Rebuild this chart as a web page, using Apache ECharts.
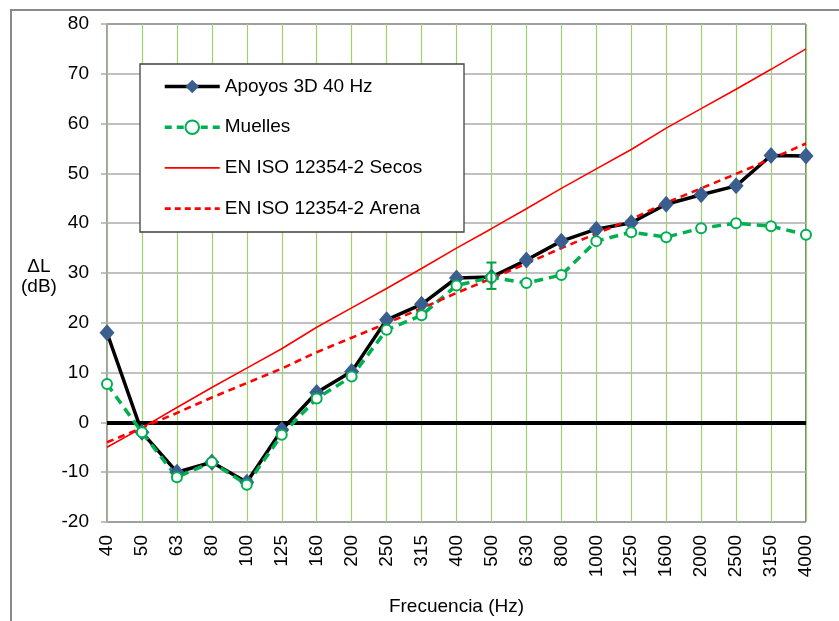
<!DOCTYPE html>
<html>
<head>
<meta charset="utf-8">
<script src="https://cdn.jsdelivr.net/npm/echarts@6/dist/echarts.min.js"></script>
<style>html,body{margin:0;padding:0;background:#fff;}#c{width:839px;height:621px;}</style>
</head>
<body>
<div id="c"></div>
<script>
const categories = ['40','50','63','80','100','125','160','200','250','315','400','500','630','800','1000','1250','1600','2000','2500','3150','4000'];
const apoyos = [18, -2, -10, -8, -12, -1.5, 6, 10.2, 20.6, 23.7, 29, 29.2, 32.6, 36.4, 38.8, 40.1, 43.8, 45.7, 47.5, 53.6, 53.5];
const muelles = [7.7, -2, -11, -8, -12.5, -2.5, 4.8, 9.2, 18.6, 21.5, 27.5, 29.1, 28, 29.6, 36.4, 38.2, 37.2, 39.0, 40.0, 39.4, 37.7];
const secos = [-5, -1.1, 3, 7, 10.9, 14.8, 19.1, 23, 26.9, 30.9, 35, 38.9, 42.9, 47, 50.9, 54.8, 59.1, 63, 66.9, 70.9, 75];
const arena = [-4, -1.1, 1.9, 5, 7.9, 10.8, 14.1, 17, 19.9, 22.9, 26, 28.9, 31.9, 35, 37.9, 40.8, 44.1, 47, 49.9, 52.9, 56];
const muellesErrLow = [null,null,null,null,null,null,null,null,null,null,null,26.8,null,null,null,null,null,null,null,null,null];
const muellesErrHigh = [null,null,null,null,null,null,null,null,null,null,null,32.1,null,null,null,null,null,null,null,null,null];
const yTicks = {min: -20, max: 80, interval: 10};

const FONT = 'Liberation Sans';
const FS = 19;
const errData = [];
categories.forEach((c, i) => { if (muellesErrLow[i] != null) errData.push([i, muellesErrLow[i], muellesErrHigh[i]]); });

const chart = echarts.init(document.getElementById('c'), null, {renderer: 'canvas'});
chart.setOption({
  backgroundColor: '#fff',
  animation: false,
  textStyle: {fontFamily: FONT},
  grid: {left: 107, right: 33, top: 24, bottom: 95, show: true, borderColor: '#000', borderWidth: 1, backgroundColor: 'transparent'},
  graphic: [
    {type: 'rect', shape: {x: 11, y: 10, width: 1000, height: 1000}, style: {fill: 'none', stroke: '#8a8a8a', lineWidth: 2}, z: -1, silent: true},
    {type: 'rect', shape: {x: 140, y: 64, width: 324, height: 168}, style: {fill: '#fff', stroke: '#404040', lineWidth: 1.3}, z: 3, silent: true},
    {type: 'text', left: 21, top: 257, style: {text: '\u0394L\n(dB)', font: FS + 'px ' + FONT, fill: '#000', textAlign: 'center', lineHeight: 20}, z: 5}
  ],
  legend: {
    orient: 'vertical', left: 163, top: 77, padding: 0,
    itemWidth: 55, itemHeight: 17, itemGap: 21.7,
    textStyle: {fontSize: FS, color: '#000', fontFamily: FONT},
    data: [
      {name: 'Apoyos 3D 40 Hz', lineStyle: {width: 3.5, color: '#000'}},
      {name: 'Muelles', lineStyle: {width: 3.5, color: '#00B050', type: [7, 5]}},
      {name: 'EN ISO 12354-2 Secos', itemStyle: {opacity: 0}, lineStyle: {width: 1.6, color: '#FF0000'}},
      {name: 'EN ISO 12354-2 Arena', itemStyle: {opacity: 0}, lineStyle: {width: 2.6, color: '#FF0000', type: [6, 4]}}
    ],
    z: 6
  },
  xAxis: {
    type: 'category', data: categories, boundaryGap: false,
    axisLine: {lineStyle: {color: '#888', width: 1.5}},
    axisTick: {show: false},
    axisLabel: {rotate: 90, fontSize: FS, color: '#000', margin: 13, fontFamily: FONT, interval: 0},
    splitLine: {show: true, lineStyle: {color: '#9ED36A', width: 1.2}},
    name: 'Frecuencia (Hz)', nameLocation: 'middle', nameGap: 75,
    nameTextStyle: {fontSize: FS, color: '#000', fontFamily: FONT}
  },
  yAxis: {
    type: 'value', min: yTicks.min, max: yTicks.max, interval: yTicks.interval,
    axisLine: {show: true, lineStyle: {color: '#aaa', width: 1.5}},
    axisTick: {show: true, inside: false, length: 6, lineStyle: {color: '#aaa', width: 1.5}},
    axisLabel: {fontSize: FS, color: '#000', margin: 18, fontFamily: FONT},
    splitLine: {show: true, lineStyle: {color: '#ABABAB', width: 1.5}}
  },
  series: [
    {
      name: 'Apoyos 3D 40 Hz', type: 'line', data: apoyos, z: 4,
      symbol: 'diamond', symbolSize: [15, 17],
      lineStyle: {color: '#000', width: 3.5},
      itemStyle: {color: '#3A5F8E', borderWidth: 0},
      markLine: {
        silent: true, symbol: 'none', label: {show: false},
        lineStyle: {color: '#000', width: 4, type: 'solid'},
        data: [{yAxis: 0}], z: 2
      }
    },
    {
      name: 'Muelles', type: 'line', data: muelles, z: 4,
      symbol: 'emptyCircle', symbolSize: 10,
      lineStyle: {color: '#00B050', width: 3.5, type: [9, 6]},
      itemStyle: {color: '#00B050', borderWidth: 2}
    },
    {
      name: 'EN ISO 12354-2 Secos', type: 'line', data: secos, z: 4,
      symbol: 'none',
      lineStyle: {color: '#FF0000', width: 1.6},
      itemStyle: {color: '#FF0000'}
    },
    {
      name: 'EN ISO 12354-2 Arena', type: 'line', data: arena, z: 4,
      symbol: 'none',
      lineStyle: {color: '#FF0000', width: 2.6, type: [7, 5]},
      itemStyle: {color: '#FF0000'}
    },
    {
      name: 'errMuelles', type: 'custom', data: errData, z: 5,
      renderItem: function (params, api) {
        const lo = api.coord([api.value(0), api.value(1)]);
        const hi = api.coord([api.value(0), api.value(2)]);
        const w = 5;
        const st = {stroke: '#00A040', lineWidth: 2};
        return {type: 'group', children: [
          {type: 'line', shape: {x1: lo[0], y1: lo[1], x2: hi[0], y2: hi[1]}, style: st},
          {type: 'line', shape: {x1: lo[0]-w, y1: lo[1], x2: lo[0]+w, y2: lo[1]}, style: st},
          {type: 'line', shape: {x1: hi[0]-w, y1: hi[1], x2: hi[0]+w, y2: hi[1]}, style: st}
        ]};
      }
    }
  ]
});
</script>
</body>
</html>
